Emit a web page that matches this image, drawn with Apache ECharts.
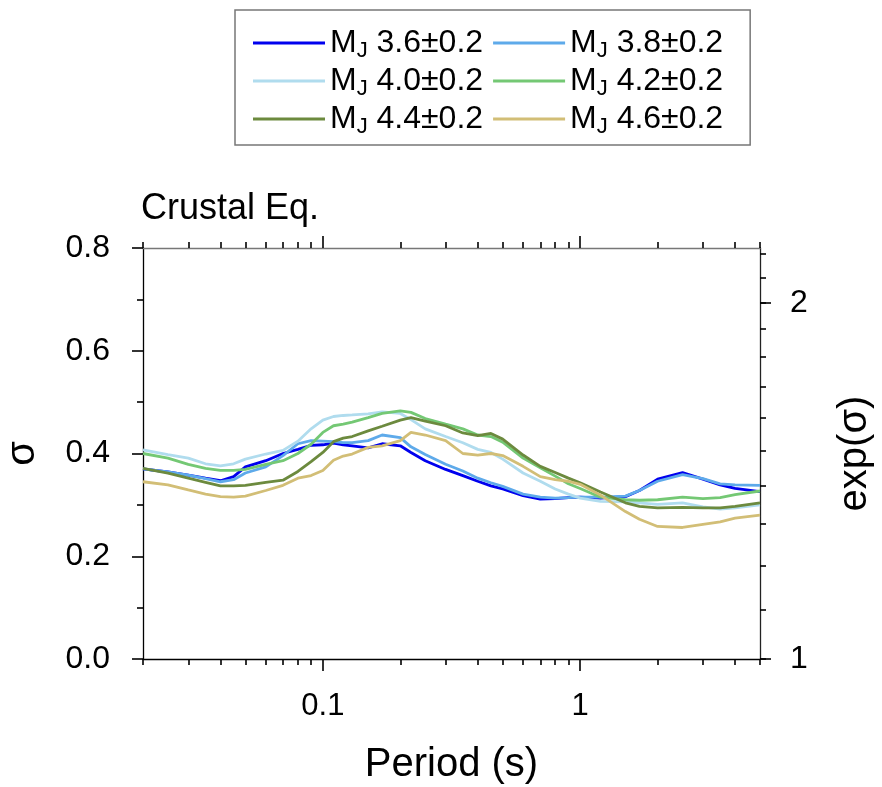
<!DOCTYPE html>
<html>
<head>
<meta charset="utf-8">
<title>Crustal Eq. sigma vs period</title>
<script src="https://cdn.jsdelivr.net/npm/echarts@6/dist/echarts.min.js"></script>
<style>
  html, body { margin: 0; padding: 0; background: #fff; }
  #chart { width: 882px; height: 787px; }
</style>
</head>
<body>
<div id="chart"></div>
<script>
// Spectral periods (s)
const periods = [0.02, 0.025, 0.03, 0.035, 0.04, 0.045, 0.05, 0.06, 0.07, 0.08, 0.09,
  0.1, 0.11, 0.12, 0.13, 0.15, 0.17, 0.2, 0.22, 0.25, 0.3, 0.35, 0.4, 0.45, 0.5,
  0.6, 0.7, 0.8, 0.9, 1.0, 1.2, 1.5, 1.7, 2.0, 2.5, 3.0, 3.5, 4.0, 5.0];

// Standard deviation sigma per magnitude bin
const sigmaMJ36 = [0.370, 0.364, 0.358, 0.352, 0.347, 0.355, 0.374, 0.386, 0.400, 0.408, 0.416,
  0.417, 0.420, 0.417, 0.415, 0.411, 0.419, 0.415, 0.402, 0.386, 0.369, 0.357, 0.346, 0.337, 0.331,
  0.318, 0.311, 0.312, 0.314, 0.315, 0.313, 0.316, 0.328, 0.350, 0.363, 0.350, 0.339, 0.332, 0.326];
const sigmaMJ38 = [0.370, 0.364, 0.358, 0.351, 0.345, 0.349, 0.362, 0.374, 0.396, 0.419, 0.425,
  0.424, 0.423, 0.421, 0.421, 0.425, 0.436, 0.431, 0.413, 0.398, 0.379, 0.366, 0.352, 0.343, 0.336,
  0.321, 0.315, 0.313, 0.314, 0.315, 0.315, 0.317, 0.328, 0.346, 0.359, 0.351, 0.341, 0.339, 0.338];
const sigmaMJ40 = [0.407, 0.398, 0.391, 0.380, 0.376, 0.380, 0.389, 0.399, 0.406, 0.424, 0.448,
  0.465, 0.472, 0.474, 0.475, 0.477, 0.481, 0.478, 0.466, 0.448, 0.433, 0.421, 0.408, 0.402, 0.389,
  0.362, 0.346, 0.331, 0.321, 0.313, 0.307, 0.306, 0.304, 0.301, 0.304, 0.296, 0.292, 0.294, 0.300];
const sigmaMJ42 = [0.400, 0.391, 0.379, 0.371, 0.367, 0.367, 0.369, 0.379, 0.386, 0.400, 0.418,
  0.441, 0.454, 0.457, 0.461, 0.470, 0.478, 0.483, 0.480, 0.468, 0.457, 0.448, 0.436, 0.433, 0.422,
  0.391, 0.372, 0.356, 0.341, 0.332, 0.315, 0.310, 0.309, 0.310, 0.315, 0.312, 0.314, 0.320, 0.327];
const sigmaMJ44 = [0.371, 0.362, 0.352, 0.344, 0.337, 0.337, 0.338, 0.344, 0.348, 0.365, 0.384,
  0.402, 0.423, 0.430, 0.433, 0.444, 0.453, 0.465, 0.470, 0.463, 0.454, 0.440, 0.435, 0.439, 0.428,
  0.397, 0.375, 0.363, 0.352, 0.343, 0.325, 0.304, 0.297, 0.294, 0.295, 0.294, 0.294, 0.297, 0.304];
const sigmaMJ46 = [0.345, 0.339, 0.329, 0.321, 0.316, 0.315, 0.317, 0.328, 0.338, 0.352, 0.357,
  0.367, 0.387, 0.395, 0.399, 0.412, 0.415, 0.425, 0.441, 0.436, 0.425, 0.400, 0.397, 0.400, 0.396,
  0.375, 0.355, 0.349, 0.346, 0.340, 0.319, 0.287, 0.272, 0.258, 0.256, 0.262, 0.267, 0.274, 0.280];

const magnitudes = ['3.6', '3.8', '4.0', '4.2', '4.4', '4.6'];
const sigmaSets = [sigmaMJ36, sigmaMJ38, sigmaMJ40, sigmaMJ42, sigmaMJ44, sigmaMJ46];
const lineColors = ['#0000ee', '#5eaaea', '#b0dcee', '#74c874', '#6c8a3e', '#d2be76'];

// Axis ticks
const periodMajorTicks = [0.1, 1];
const periodMinorTicks = [0.02, 0.03, 0.04, 0.05, 0.06, 0.07, 0.08, 0.09,
  0.2, 0.3, 0.4, 0.5, 0.6, 0.7, 0.8, 0.9, 2, 3, 4, 5];
const expMinorTicks = [1.0, 1.1, 1.2, 1.3, 1.4, 1.5, 1.6, 1.7, 1.8, 1.9, 2.0, 2.1, 2.2];
const expMajorTicks = [1, 2];

const periodMin = 0.02, periodMax = 5;
const FONT = "'Liberation Sans', Arial, Helvetica, sans-serif";

// Period axis works in log10 space
const lg = v => Math.log10(v);
const periodLabel = v => {
  const p = Math.pow(10, v);
  return p < 1 ? p.toFixed(1) : String(Math.round(p));
};

function periodAxis(position, major, opts) {
  const axis = {
    type: 'value',
    position: position,
    min: lg(periodMin),
    max: lg(periodMax),
    splitLine: { show: false },
    axisLine: { show: true, onZero: false, lineStyle: { color: position === 'top' ? '#777' : '#000', width: 1.3 } },
    axisTick: {
      show: true,
      customValues: (major ? periodMajorTicks : periodMinorTicks).map(lg),
      length: major ? 12 : 6,
      lineStyle: { color: '#000', width: 1.6 }
    },
    axisLabel: { show: false }
  };
  return Object.assign(axis, opts || {});
}

const series = magnitudes.map((m, k) => ({
  name: m,
  type: 'line',
  xAxisIndex: 0,
  yAxisIndex: 0,
  symbol: 'none',
  smooth: false,
  lineStyle: { color: lineColors[k], width: 2.8 },
  itemStyle: { color: lineColors[k] },
  data: periods.map((t, i) => [lg(t), sigmaSets[k][i]])
}));

const option = {
  animation: false,
  backgroundColor: '#fff',
  textStyle: { fontFamily: FONT },
  title: {
    text: 'Crustal Eq.',
    left: 141,
    top: 191,
    padding: 0,
    textStyle: { fontFamily: FONT, fontSize: 36, fontWeight: 'normal', color: '#000' }
  },
  legend: {
    left: 235,
    top: 10,
    width: 490,
    padding: [14, 17, 7, 18],
    itemGap: 0,
    itemWidth: 72,
    itemHeight: 3,
    icon: 'rect',
    borderColor: '#777',
    borderWidth: 1.5,
    formatter: name => '{m|M}{j|J}{n| ' + name + '±0.2}',
    textStyle: {
      fontFamily: FONT,
      color: '#000',
      rich: {
        m: { fontFamily: FONT, fontSize: 32, lineHeight: 34, color: '#000' },
        n: { fontFamily: FONT, fontSize: 32, lineHeight: 34, padding: [0, 10, 0, 0], color: '#000' },
        j: { fontFamily: FONT, fontSize: 22, lineHeight: 16, padding: [16, 0, 0, 0], color: '#000' }
      }
    },
    data: magnitudes
  },
  grid: { left: 143, right: 122, top: 248, bottom: 128, containLabel: false, outerBoundsMode: 'none' },
  xAxis: [
    periodAxis('bottom', false, {
      axisLabel: {
        show: true,
        customValues: periodMajorTicks.map(lg),
        formatter: periodLabel,
        margin: 32,
        fontFamily: FONT,
        fontSize: 31,
        color: '#000'
      }
    }),
    periodAxis('bottom', true, {
      axisLine: { show: false, onZero: false },
      name: 'Period (s)',
      nameLocation: 'middle',
      nameGap: 86,
      nameTextStyle: { fontFamily: FONT, fontSize: 40, color: '#000' }
    }),
    periodAxis('top', false),
    periodAxis('top', true, { axisLine: { show: false, onZero: false } })
  ],
  yAxis: [
    {
      type: 'value',
      position: 'left',
      min: 0,
      max: 0.8,
      interval: 0.2,
      splitLine: { show: false },
      axisLine: { show: true, onZero: false, lineStyle: { color: '#000', width: 1.3 } },
      axisTick: { show: true, length: 11, lineStyle: { color: '#000', width: 1.6 } },
      minorTick: { show: true, splitNumber: 2, length: 6, lineStyle: { color: '#000', width: 1.6 } },
      axisLabel: {
        formatter: v => v.toFixed(1),
        margin: 33,
        fontFamily: FONT,
        fontSize: 32,
        color: '#000'
      },
      name: 'σ',
      nameLocation: 'middle',
      nameRotate: 90,
      nameGap: 100,
      nameTextStyle: { fontFamily: FONT, fontSize: 40, color: '#000' }
    },
    {
      type: 'value',
      position: 'right',
      min: 0,
      max: 0.8,
      splitLine: { show: false },
      axisLine: { show: true, onZero: false, lineStyle: { color: '#222', width: 1.3 } },
      axisTick: {
        show: true,
        customValues: expMinorTicks.map(v => Math.log(v)),
        length: 6,
        lineStyle: { color: '#000', width: 1.6 }
      },
      axisLabel: {
        show: true,
        customValues: expMajorTicks.map(v => Math.log(v)),
        formatter: v => String(Math.round(Math.exp(v))),
        margin: 30,
        fontFamily: FONT,
        fontSize: 32,
        color: '#000'
      }
    },
    {
      type: 'value',
      position: 'right',
      min: 0,
      max: 0.8,
      splitLine: { show: false },
      axisLine: { show: false, onZero: false },
      axisTick: {
        show: true,
        customValues: expMajorTicks.map(v => Math.log(v)),
        length: 11,
        lineStyle: { color: '#000', width: 1.6 }
      },
      axisLabel: { show: false },
      name: 'exp(σ)',
      nameLocation: 'middle',
      nameRotate: 90,
      nameGap: 75,
      nameTextStyle: { fontFamily: FONT, fontSize: 40, color: '#000' }
    }
  ],
  series: series
};

const chart = echarts.init(document.getElementById('chart'), null, { renderer: 'canvas' });
chart.setOption(option);
</script>
</body>
</html>
